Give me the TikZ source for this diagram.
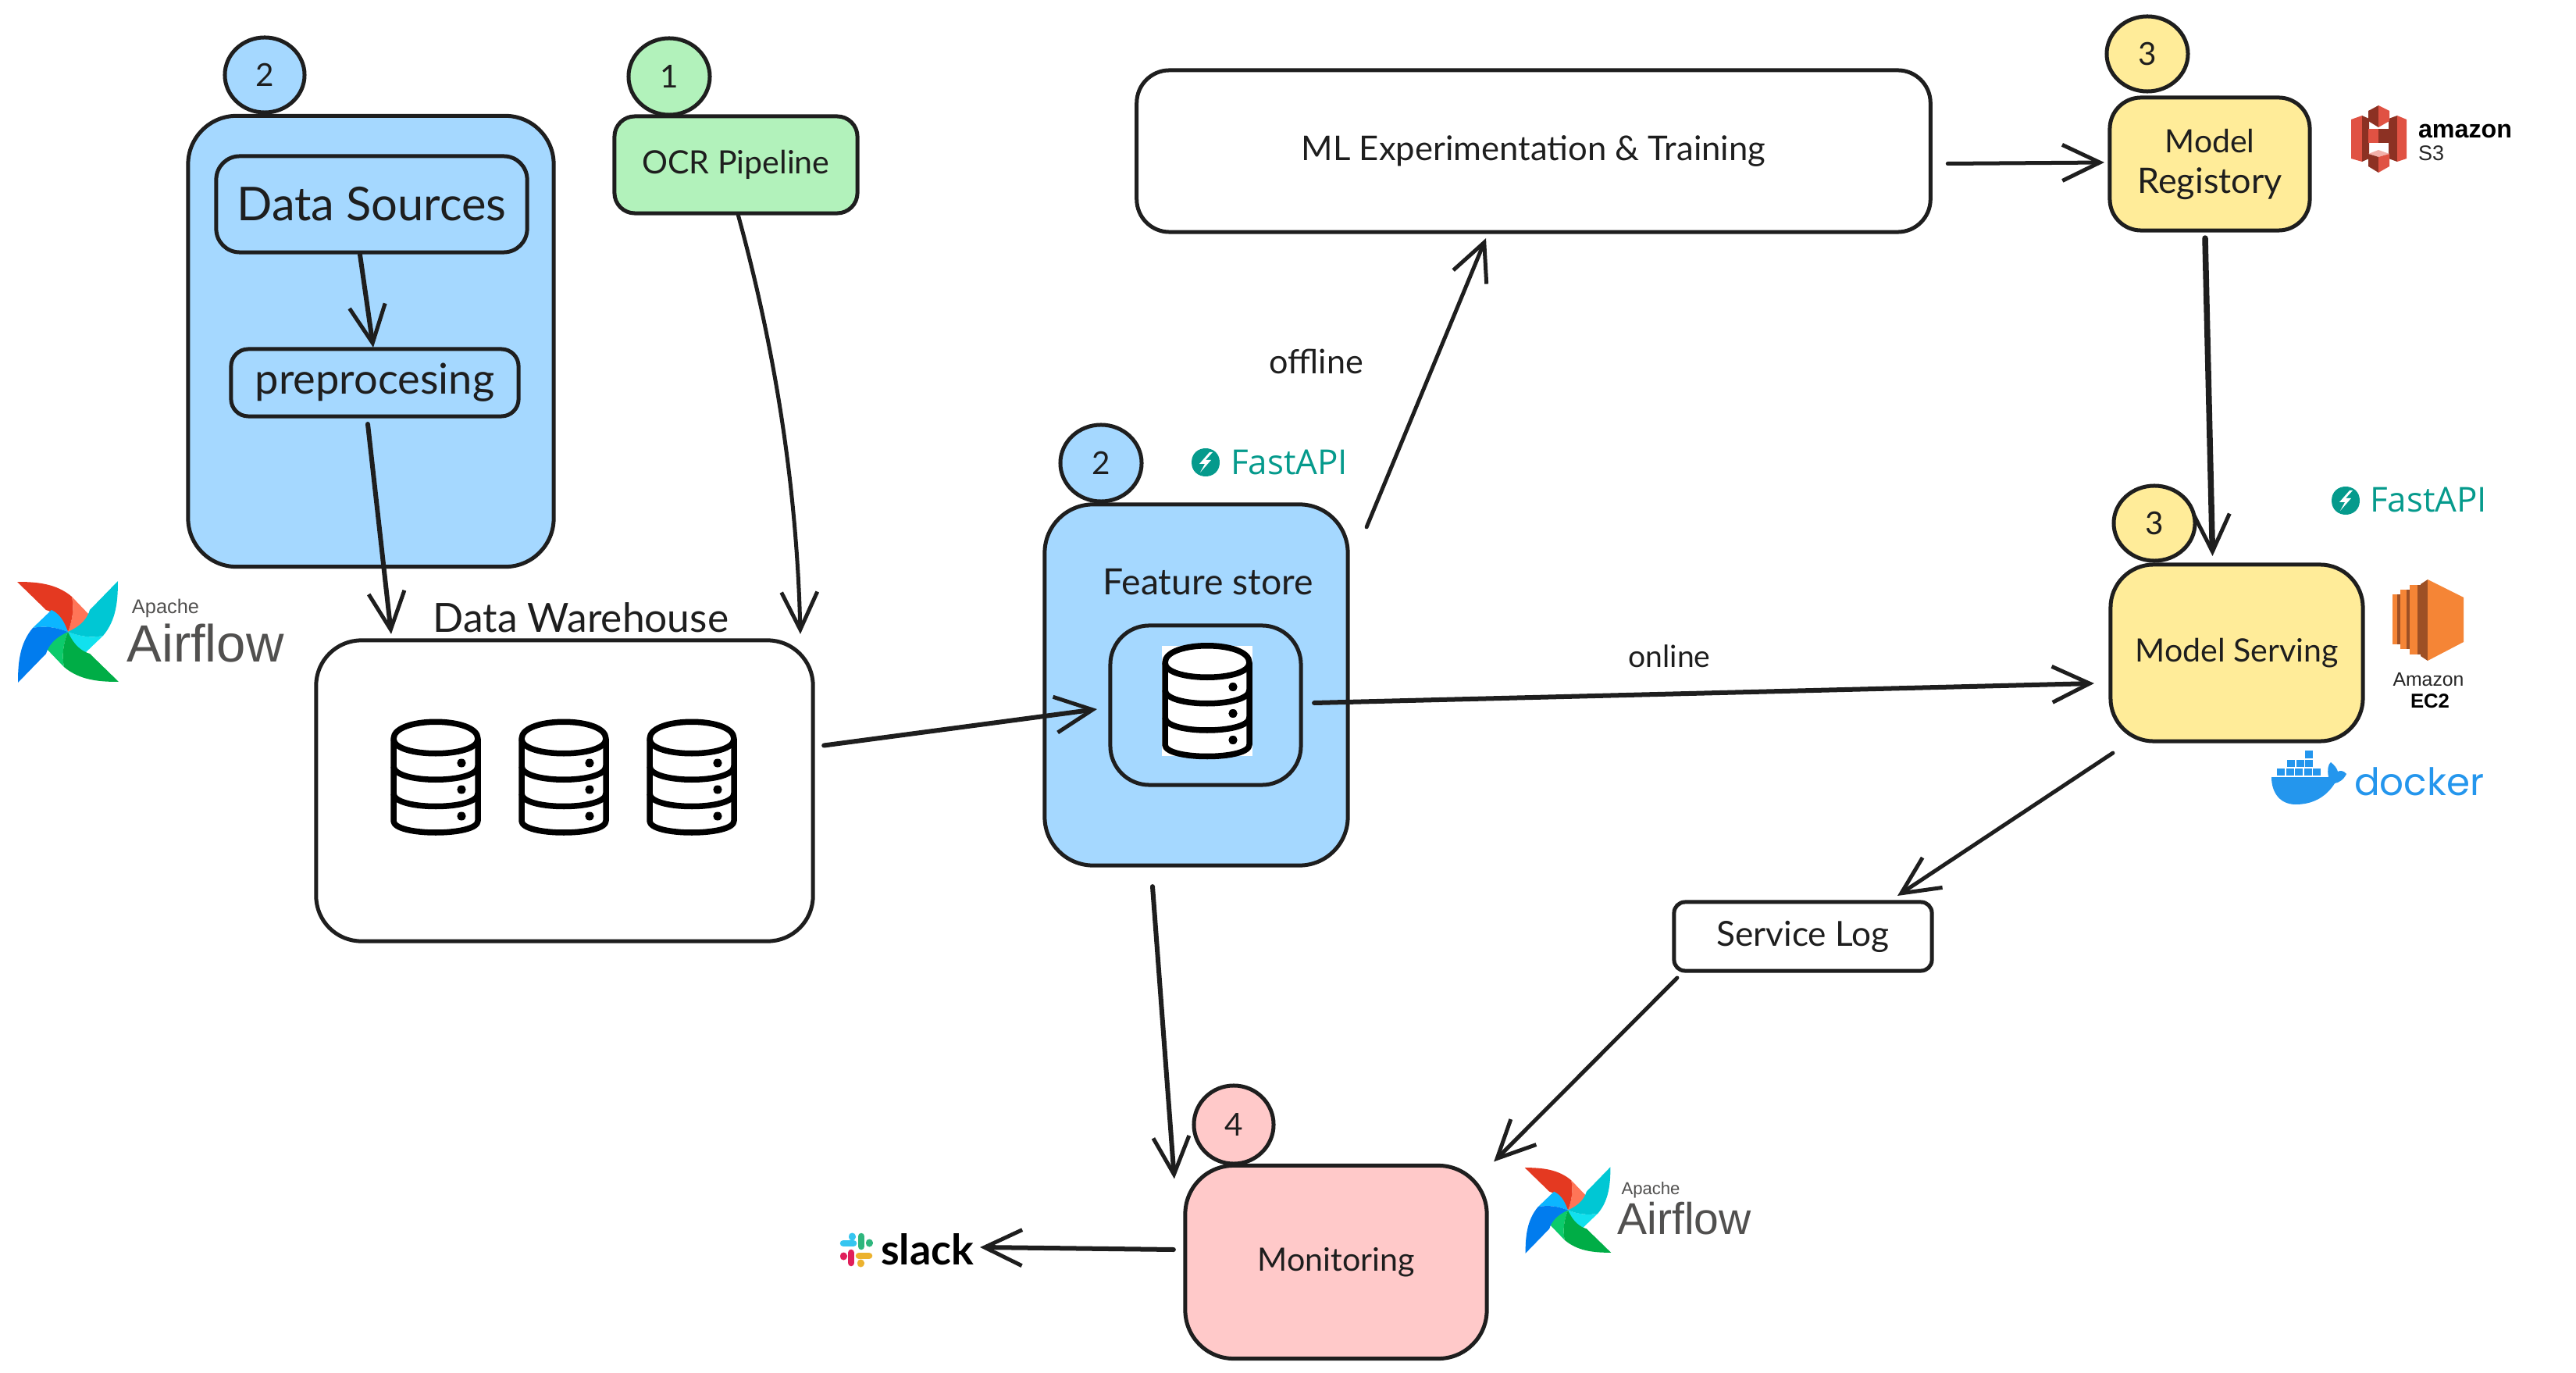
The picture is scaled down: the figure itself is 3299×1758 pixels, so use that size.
\documentclass[tikz,border=0pt]{standalone}
\usepackage{fontspec}
\setmainfont{Liberation Sans}
\newfontfamily\handfont{Lato}
\newfontfamily\fastfont{Open Sans}
\newfontfamily\logofont{Poppins}
\usetikzlibrary{arrows.meta,calc,shapes.geometric}
\definecolor{inkc}{HTML}{1E1E1E}
\definecolor{bluef}{HTML}{A5D8FF}
\definecolor{greenf}{HTML}{B2F2BB}
\definecolor{yellowf}{HTML}{FFEC99}
\definecolor{redf}{HTML}{FFC9C9}
\definecolor{fastc}{HTML}{059A8C}
\definecolor{airc}{HTML}{51504F}
\definecolor{dockc}{HTML}{2496ED}
\definecolor{airred}{HTML}{E43921}
\definecolor{aircoral}{HTML}{FF7557}
\definecolor{airteal}{HTML}{00C7D4}
\definecolor{aircyan}{HTML}{11E1EE}
\definecolor{airgreen}{HTML}{00AD46}
\definecolor{airlime}{HTML}{0CCB6B}
\definecolor{airblue}{HTML}{017CEE}
\definecolor{airsky}{HTML}{0CB6FF}
\definecolor{s3main}{HTML}{E05243}
\definecolor{s3dark}{HTML}{8C3123}
\definecolor{s3light}{HTML}{F2B0A9}
\definecolor{ecmain}{HTML}{F58536}
\definecolor{ecdark}{HTML}{9D5025}
\definecolor{slackb}{HTML}{36C5F0}
\definecolor{slackg}{HTML}{2EB67D}
\definecolor{slacky}{HTML}{ECB22E}
\definecolor{slackr}{HTML}{E01E5A}
\newcommand\handfit[2]{\resizebox{#1cm}{!}{\handfont\fontsize{11}{13}\selectfont #2}}
\newcommand\plainfit[2]{\resizebox{#1cm}{!}{\fontsize{11}{13}\selectfont #2}}
\tikzset{
  sk/.style={draw=inkc,line width=0.05cm,inner sep=0pt,outer sep=0pt,text=inkc,align=center},
  skbox/.style={sk,rectangle},
  badge/.style={sk,ellipse,font=\handfont\fontsize{11.5}{13}\selectfont},
  lbl/.style={inner sep=0pt,outer sep=0pt,text=inkc,align=center},
  conn/.style={draw=inkc,line width=0.05cm,line cap=round,-{Straight Barb[length=0.48cm,width=0.46cm,line width=0.05cm]}},
  connmid/.style={conn,line width=0.06cm},
  connthick/.style={conn,line width=0.075cm},
  dbstroke/.style={draw=black,line width=0.075cm,line join=round},
}
% pinwheel
\newcommand\petal[3]{%
  \begin{scope}[rotate=#1]
    \fill[#3] (5,-45) -- (28,-21) .. controls (22,-8) and (8,-3) .. (0,0) .. controls (6,-15) and (8,-30) .. cycle;
    \fill[#2] (-65,-64) .. controls (-40,-64) and (-15,-62) .. (5,-45) .. controls (8,-30) and (6,-15) .. (0,0) .. controls (-8,-18) and (-18,-25) .. (-28,-28) -- cycle;
  \end{scope}}
\newcommand\pinwheel[3]{%
  \begin{scope}[shift={(#1,#2)},scale=#3]
    \petal{0}{airred}{aircoral}
    \petal{-90}{airteal}{aircyan}
    \petal{-180}{airgreen}{airlime}
    \petal{-270}{airblue}{airsky}
  \end{scope}}
% database icon
\newcommand\dbicon[2]{%
  \begin{scope}[shift={(#1,#2)}]
    \draw[dbstroke,fill=white] (-54,-49) -- (-54,56) .. controls (-54,76) and (54,76) .. (54,56) -- (54,-49)
       .. controls (54,-78) and (-54,-78) .. (-54,-49) -- cycle;
    \draw[dbstroke] (-54,-49) .. controls (-54,-24) and (54,-24) .. (54,-49);
    \draw[dbstroke] (-54,-14) .. controls (-54,9) and (54,9) .. (54,-14);
    \draw[dbstroke] (-54,21) .. controls (-54,43) and (54,43) .. (54,21);
    \foreach \dy in {-18,16,50} {\fill[black] (33,\dy-5.5) .. controls (40.5,\dy-5.5) and (40.5,\dy+5.5) .. (33,\dy+5.5) .. controls (25.5,\dy+5.5) and (25.5,\dy-5.5) .. (33,\dy-5.5);}
  \end{scope}}
\newcommand\fastlogo[2]{%
  \begin{scope}[shift={(#1,#2)}]
    \fill[fastc] (-18,0) .. controls (-18,-24) and (18,-24) .. (18,0) .. controls (18,24) and (-18,24) .. (-18,0);
    \fill[white] (5,-13) -- (-8,2) -- (-1,2) -- (-7,13) -- (7,-3) -- (0,-3) -- (9,-13) -- cycle;
  \end{scope}}
\begin{document}
\begin{tikzpicture}[x=0.01cm,y=-0.01cm]
\useasboundingbox (0,0) rectangle (3299,1758);
\fill[white] (0,0) rectangle (3299,1758);

% --- data sources group
\node[skbox,fill=bluef,minimum width=4.68cm,minimum height=5.77cm,rounded corners=0.62cm] (datagroup) at (475,437) {};
\node[badge,fill=bluef,minimum width=1.02cm,minimum height=0.96cm] (badgeA) at (339,96) {2};
\node[skbox,fill=bluef,minimum width=3.98cm,minimum height=1.23cm,rounded corners=0.3cm] (sources) at (476,261.5) {\handfit{3.45}{Data Sources}};
\node[skbox,fill=bluef,minimum width=3.68cm,minimum height=0.86cm,rounded corners=0.22cm] (prep) at (480,490) {\handfit{3.06}{preprocesing}};

% --- OCR
\node[skbox,fill=greenf,minimum width=3.11cm,minimum height=1.24cm,rounded corners=0.26cm] (ocr) at (942.5,211) {\handfit{2.4}{OCR Pipeline}};
\node[badge,fill=greenf,minimum width=1.04cm,minimum height=0.98cm] (badgeB) at (857,98) {1};

% --- warehouse
\node[lbl] (dwlabel) at (744,791) {\handfit{3.78}{Data Warehouse}};
\node[skbox,fill=white,minimum width=6.36cm,minimum height=3.85cm,rounded corners=0.58cm] (dw) at (723,1012.5) {};
\dbicon{558}{995}
\dbicon{722}{995}
\dbicon{886}{995}

% --- feature store
\node[skbox,fill=bluef,minimum width=3.88cm,minimum height=4.62cm,rounded corners=0.62cm] (fs) at (1532,877) {};
\node[badge,fill=bluef,minimum width=1.04cm,minimum height=0.98cm] (badgeC) at (1410,593) {2};
\node[lbl] (fslabel) at (1547,745) {\handfit{2.69}{Feature store}};
\node[skbox,fill=bluef,minimum width=2.44cm,minimum height=2.04cm,rounded corners=0.5cm] (fsinner) at (1544,903) {};
\fill[white] (1488,827) rectangle (1604,968);
\dbicon{1546}{897.5}
\fastlogo{1544}{592}
\node[lbl,anchor=base west,text=fastc] (fastA) at (1576,607) {\resizebox{1.5cm}{!}{\fastfont\fontsize{11}{13}\selectfont FastAPI}};

% --- ML
\node[skbox,fill=white,minimum width=10.16cm,minimum height=2.07cm,rounded corners=0.42cm] (ml) at (1964,193.5) {\handfit{5.94}{ML Experimentation \& Training}};
\node[lbl] (offl) at (1686,463) {\handfit{1.2}{offline}};
\node[lbl] (onl) at (2138,840) {\handfit{1.05}{online}};

% --- registry
\node[skbox,fill=yellowf,minimum width=2.56cm,minimum height=1.7cm,rounded corners=0.4cm] (reg) at (2830,210) {};
\node[badge,fill=yellowf,minimum width=1.04cm,minimum height=0.96cm] (badgeD) at (2750,69) {3};
\node[lbl] (regA) at (2830,181) {\handfit{1.15}{Model}};
\node[lbl] (regB) at (2830,235) {\handfit{1.85}{Registory}};

% --- S3 logo
\fill[s3main] (3011,153) -- (3025,148) -- (3025,207) -- (3011,203) -- cycle;
\fill[s3dark] (3025,148) -- (3034,152) -- (3034,203) -- (3025,207) -- cycle;
\fill[s3dark] (3059,152) -- (3070,148) -- (3070,207) -- (3059,203) -- cycle;
\fill[s3main] (3070,148) -- (3082,153) -- (3082,203) -- (3070,207) -- cycle;
\fill[s3dark] (3033,142) -- (3046,135) -- (3046,163) -- (3033,155) -- cycle;
\fill[s3main] (3046,135) -- (3060,142) -- (3060,155) -- (3046,163) -- cycle;
\fill[s3main] (3033,165) rectangle (3046,183);
\fill[s3dark] (3046,165) rectangle (3060,183);
\fill[s3light] (3033,197) -- (3046,192) -- (3060,197) -- (3046,201) -- cycle;
\fill[s3dark] (3033,197) -- (3046,201) -- (3046,221) -- (3033,213) -- cycle;
\fill[s3main] (3060,197) -- (3046,201) -- (3046,221) -- (3060,213) -- cycle;
\node[lbl,anchor=base west,text=black] (amz) at (3097,177) {\resizebox{1.2cm}{!}{\fontsize{11}{13}\selectfont\bfseries amazon}};
\node[lbl,anchor=base west,text=black!85] (s3t) at (3097,206) {\resizebox{0.33cm}{!}{\fontsize{11}{13}\selectfont S3}};

% --- serving
\node[badge,fill=yellowf,minimum width=1.04cm,minimum height=0.96cm] (badgeE) at (2759,670) {3};
\node[skbox,fill=yellowf,minimum width=3.23cm,minimum height=2.26cm,rounded corners=0.55cm] (serv) at (2864.5,836) {\handfit{2.6}{Model Serving}};
\fastlogo{3004}{641}
\node[lbl,anchor=base west,text=fastc] (fastB) at (3035,656) {\resizebox{1.5cm}{!}{\fastfont\fontsize{11}{13}\selectfont FastAPI}};

% --- EC2 logo
\fill[ecmain] (3064,761) rectangle (3070,825);
\fill[ecdark] (3070,761) rectangle (3074,825);
\fill[ecmain] (3074,755) rectangle (3082,831);
\fill[ecdark] (3082,755) rectangle (3086,831);
\fill[ecmain] (3086,749) rectangle (3096,838);
\fill[ecdark] (3096,749) rectangle (3100,838);
\fill[ecdark] (3100,748) -- (3109,742) -- (3109,846) -- (3100,840) -- cycle;
\fill[ecmain] (3109,742) -- (3155,765) -- (3155,822) -- (3109,846) -- cycle;
\node[lbl,text=black!85] (ecA) at (3110,870) {\resizebox{0.91cm}{!}{\fontsize{11}{13}\selectfont Amazon}};
\node[lbl,text=black] (ecB) at (3112,898) {\resizebox{0.5cm}{!}{\fontsize{11}{13}\selectfont\bfseries EC2}};

% --- docker logo
\fill[dockc] (2909,995) -- (2982,995) .. controls (2980,985) and (2982,978) .. (2985,976) .. controls (2990,980) and (2993,984) .. (2994,988) .. controls (2997,986) and (3002,987) .. (3005,991)
  .. controls (3001,999) and (2995,1002) .. (2990,1003) .. controls (2978,1022) and (2960,1030) .. (2940,1030) .. controls (2920,1030) and (2909,1015) .. (2909,995) -- cycle;
\foreach \dx in {0,1,2,3,4} {\fill[dockc] (2916+\dx*11.6,984) rectangle (2926+\dx*11.6,993);}
\foreach \dx in {0,1,2} {\fill[dockc] (2929+\dx*11.6,973) rectangle (2939+\dx*11.6,982);}
\fill[dockc] (2952,961) rectangle (2962,971);
\node[lbl,anchor=base west,text=dockc] (dockt) at (3015,1018) {\resizebox{1.66cm}{!}{\logofont\fontsize{11}{13}\selectfont docker}};

% --- service log, monitoring
\node[skbox,fill=white,minimum width=3.3cm,minimum height=0.88cm,rounded corners=0.14cm] (slog) at (2309,1199) {\handfit{2.21}{Service Log}};
\node[badge,fill=redf,minimum width=1.02cm,minimum height=1cm] (badgeF) at (1580,1440) {4};
\node[skbox,fill=redf,minimum width=3.86cm,minimum height=2.47cm,rounded corners=0.62cm] (mon) at (1711,1616) {\handfit{2.01}{Monitoring}};

% --- airflow logos
\pinwheel{87}{809}{1}
\node[lbl,text=airc] (apA) at (212,779) {\plainfit{0.86}{Apache}};
\node[lbl,text=airc] (afA) at (263,824) {\plainfit{2.01}{Airflow}};
\pinwheel{2008}{1549.5}{0.85}
\node[lbl,text=airc] (apB) at (2114,1524) {\plainfit{0.75}{Apache}};
\node[lbl,text=airc] (afB) at (2157,1560) {\plainfit{1.71}{Airflow}};

% --- slack logo
\begin{scope}[line width=0.085cm,line cap=round]
  \draw[slackb] (1080,1592) -- (1093,1592); \draw[slackb,line width=0.09cm] (1091,1583) -- (1091,1584);
  \draw[slackg] (1103,1583) -- (1103,1596); \draw[slackg,line width=0.09cm] (1113,1591) -- (1113,1592);
  \draw[slacky] (1100,1608) -- (1113,1608); \draw[slacky,line width=0.09cm] (1102,1617) -- (1102,1618);
  \draw[slackr] (1090,1604) -- (1090,1617); \draw[slackr,line width=0.09cm] (1080,1608) -- (1080,1609);
\end{scope}
\node[lbl,anchor=west,text=black] (slackt) at (1128,1600) {\resizebox{1.19cm}{!}{\handfont\bfseries\fontsize{11}{13}\selectfont slack}};

% --- connectors
\draw[connmid] ($(sources.south)+(-15,3)$) -- ($(prep.north)+(-2,-2)$);
\draw[connmid] ($(prep.south)+(-9,10)$) -- ($(dw.north)+(-222,-8)$);
\draw[conn] ($(ocr.south)+(3,3)$) .. controls (985,420) and (1020,600) .. ($(dw.north)+(302,-8)$);
\draw[connmid] ($(dw.east)+(14,-58)$) -- ($(fsinner.west)+(-17,5)$);
\draw[connmid] ($(fsinner.east)+(17,-3)$) -- ($(serv.west)+(-21,39)$);
\draw[conn] ($(fs.north east)+(24,29)$) -- ($(ml.south)+(-61,8)$);
\draw[conn] ($(ml.east)+(22,16)$) -- ($(reg.west)+(-7,-2)$);
\draw[connthick] ($(reg.south)+(-6,10)$) -- ($(serv.north)+(-31,-11)$);
\draw[conn] ($(serv.south west)+(3,15)$) -- ($(slog.north)+(121,-8)$);
\draw[conn] ($(slog.south west)+(4,9)$) -- ($(mon.north east)+(9,-5)$);
\draw[connmid] ($(fs.south)+(-56,27)$) -- ($(mon.north west)+(-14,17)$);
\draw[connmid] ($(mon.west)+(-15,-16)$) -- ($(slackt.east)+(8,-3)$);
\end{tikzpicture}
\end{document}
